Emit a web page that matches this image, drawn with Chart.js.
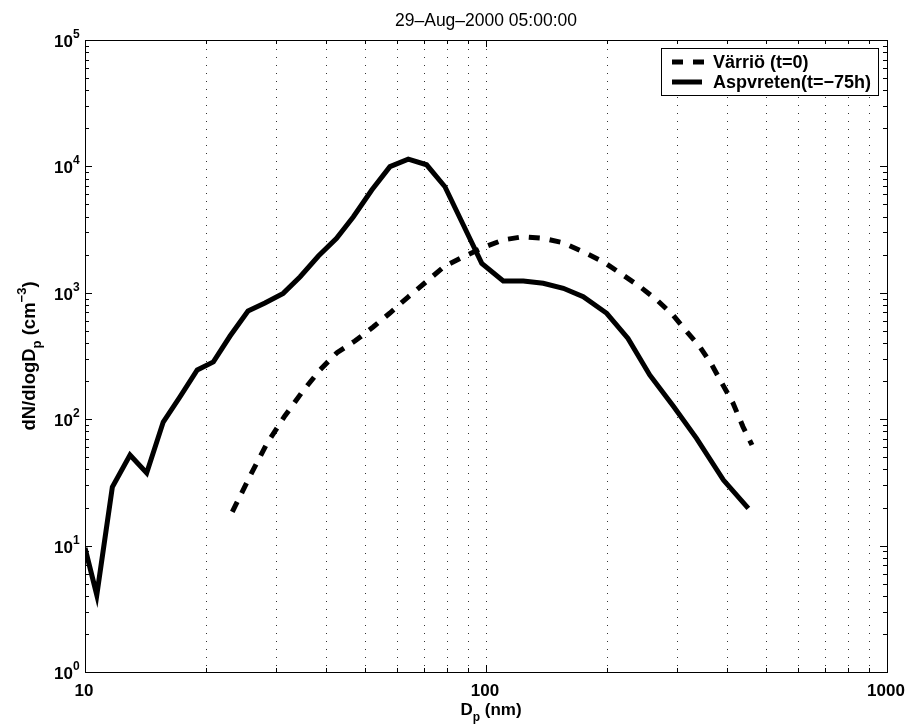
<!DOCTYPE html>
<html lang="en">
<head>
    <meta charset="UTF-8">
    <title>29-Aug-2000 05:00:00</title>
    <script src="https://cdn.jsdelivr.net/npm/chart.js"></script>
    <style>
        body {
            margin: 0;
            background-color: #ffffff;
        }
        canvas {
            display: block;
        }
    </style>
</head>
<body>
    <canvas id="sizeChart" width="909" height="726"></canvas>

    <script>
        // Aspvreten (t=-75h), solid line
        const aspvretenDp = [10, 10.7, 11.7, 12.95, 14.25, 15.67, 17.25, 19.05, 20.9, 23.0, 25.5, 28.1, 31.2, 34.4, 38.2,
            42.4, 46.7, 51.9, 57.6, 64.0, 71.1, 79.0, 87.8, 97.6, 110.4, 123.9, 138.9, 155.9, 174.8, 200, 226, 256,
            293, 335, 391, 451];
        const aspvretenConc = [9.6, 4.07, 29, 52, 37.5, 95, 150, 245, 284, 455, 718, 830, 990, 1340, 1955,
            2700, 4000, 6500, 9950, 11400, 10300, 6900, 3440, 1710, 1240, 1240, 1190, 1085, 930, 688, 436, 224,
            127, 70.6, 33, 19.7];

        // Värriö (t=0), dashed line
        const varrioDp = [23.3, 25.8, 28.4, 31.5, 34.8, 38.6, 42.5, 47.1, 52.3, 57.6, 63.9, 71.3, 79.0, 87.6, 97.7,
            110.3, 123.7, 138.7, 155.6, 174.5, 195.8, 219.6, 242.1, 266.9, 292.6, 317.1, 341.7, 366, 390, 413,
            437.5, 460.6];
        const varrioConc = [18.5, 35.5, 64, 106, 164, 247, 336, 415, 536, 692, 926, 1240, 1630, 1920, 2260,
            2620, 2780, 2700, 2490, 2115, 1763, 1383, 1118, 877, 667, 490, 373, 268, 186, 134,
            87, 62.5];

        const xTickLabels = ['10', '100', '1000'];
        const yTickExponents = ['0', '1', '2', '3', '4', '5'];

        const FONT = '"Liberation Sans", Arial, Helvetica, sans-serif';

        function toPoints(xs, ys) {
            return xs.map((v, i) => ({ x: v, y: ys[i] }));
        }

        // Dessine les axes façon MATLAB: cadre, graduations, grille pointillée, textes
        const matlabAxes = {
            id: 'matlabAxes',
            beforeDatasetsDraw(chart) {
                const { ctx, chartArea: a, scales: { x } } = chart;
                ctx.save();
                ctx.strokeStyle = '#333';
                ctx.lineWidth = 1;
                ctx.setLineDash([1, 7]);
                for (let d = 10; d < 1000; d *= 10) {
                    for (let k = 1; k <= 9; k++) {
                        const v = d * k;
                        if (v <= 10) continue;
                        const px = Math.round(x.getPixelForValue(v)) + 0.5;
                        ctx.beginPath();
                        ctx.moveTo(px, a.top + 1);
                        ctx.lineTo(px, a.bottom);
                        ctx.stroke();
                    }
                }
                ctx.restore();
            },
            afterDraw(chart) {
                const { ctx, chartArea: a, scales: { x, y } } = chart;
                ctx.save();
                ctx.strokeStyle = '#000';
                ctx.fillStyle = '#000';
                ctx.lineWidth = 1;
                ctx.setLineDash([]);

                // cadre
                ctx.strokeRect(Math.round(a.left) + 0.5, Math.round(a.top) + 0.5,
                    Math.round(a.right - a.left), Math.round(a.bottom - a.top));

                // graduations x (haut et bas)
                for (let d = 10; d <= 1000; d *= 10) {
                    for (let k = 1; k <= 9; k++) {
                        const v = d * k;
                        if (v > 1000) break;
                        const len = k === 1 ? 7 : 4;
                        const px = Math.round(x.getPixelForValue(v)) + 0.5;
                        ctx.beginPath();
                        ctx.moveTo(px, a.bottom);
                        ctx.lineTo(px, a.bottom - len);
                        ctx.moveTo(px, a.top);
                        ctx.lineTo(px, a.top + len);
                        ctx.stroke();
                    }
                }
                // graduations y (gauche et droite)
                for (let d = 1; d <= 1e5; d *= 10) {
                    for (let k = 1; k <= 9; k++) {
                        const v = d * k;
                        if (v > 1e5) break;
                        const len = k === 1 ? 7 : 4;
                        const py = Math.round(y.getPixelForValue(v)) + 0.5;
                        ctx.beginPath();
                        ctx.moveTo(a.left, py);
                        ctx.lineTo(a.left + len, py);
                        ctx.moveTo(a.right, py);
                        ctx.lineTo(a.right - len, py);
                        ctx.stroke();
                    }
                }

                // étiquettes x
                ctx.font = 'bold 17px ' + FONT;
                ctx.textAlign = 'center';
                ctx.textBaseline = 'alphabetic';
                xTickLabels.forEach(lbl => {
                    const px = x.getPixelForValue(Number(lbl));
                    ctx.fillText(lbl, px - 1, a.bottom + 24);
                });

                // étiquettes y : 10^n
                yTickExponents.forEach(e => {
                    const py = y.getPixelForValue(Math.pow(10, Number(e)));
                    ctx.font = 'bold 17px ' + FONT;
                    ctx.textAlign = 'right';
                    ctx.fillText('10', 73, py + 7);
                    ctx.font = 'bold 12px ' + FONT;
                    ctx.textAlign = 'left';
                    ctx.fillText(e, 73, py - 2);
                });

                // titre
                ctx.font = '17.5px ' + FONT;
                ctx.textAlign = 'center';
                ctx.fillText('29\u2013Aug\u20132000 05:00:00', (a.left + a.right) / 2, 26);

                // titre axe x : D_p (nm)
                drawRich(ctx, [
                    { t: 'D', size: 17, dy: 0 },
                    { t: 'p', size: 12, dy: 6 },
                    { t: ' (nm)', size: 17, dy: 0 }
                ], 491, 715, 17);

                // titre axe y : dN/dlogD_p (cm^-3)
                ctx.save();
                ctx.translate(35, (a.top + a.bottom) / 2);
                ctx.rotate(-Math.PI / 2);
                drawRich(ctx, [
                    { t: 'dN/dlogD', size: 18.5, dy: 0 },
                    { t: 'p', size: 13, dy: 6 },
                    { t: ' (cm', size: 18.5, dy: 0 },
                    { t: '\u22123', size: 13, dy: -9 },
                    { t: ')', size: 18.5, dy: 0 }
                ], 0, 0);
                ctx.restore();

                // légende
                const bx = 661.5, by = 48.5, bw = 217, bh = 47;
                ctx.fillStyle = '#fff';
                ctx.fillRect(bx, by, bw, bh);
                ctx.strokeStyle = '#000';
                ctx.lineWidth = 1;
                ctx.strokeRect(bx, by, bw, bh);
                ctx.lineWidth = 5;
                ctx.setLineDash([11, 10]);
                ctx.beginPath();
                ctx.moveTo(672, 62);
                ctx.lineTo(704, 62);
                ctx.stroke();
                ctx.setLineDash([]);
                ctx.beginPath();
                ctx.moveTo(672, 82);
                ctx.lineTo(702, 82);
                ctx.stroke();
                ctx.fillStyle = '#000';
                ctx.font = 'bold 18px ' + FONT;
                ctx.textAlign = 'left';
                ctx.textBaseline = 'middle';
                ctx.fillText(chart.data.datasets[0].label, 713, 63);
                ctx.fillText(chart.data.datasets[1].label, 713, 83);
                ctx.restore();
            }
        };

        // texte avec indices / exposants, centré sur (cx, baseline)
        function drawRich(ctx, parts, cx, base) {
            let total = 0;
            parts.forEach(p => {
                ctx.font = 'bold ' + p.size + 'px ' + FONT;
                p.w = ctx.measureText(p.t).width;
                total += p.w;
            });
            let cur = cx - total / 2;
            ctx.textAlign = 'left';
            ctx.textBaseline = 'alphabetic';
            ctx.fillStyle = '#000';
            parts.forEach(p => {
                ctx.font = 'bold ' + p.size + 'px ' + FONT;
                ctx.fillText(p.t, cur, base + p.dy);
                cur += p.w;
            });
        }

        const ctx = document.getElementById('sizeChart').getContext('2d');
        const sizeChart = new Chart(ctx, {
            type: 'line',
            data: {
                datasets: [{
                    label: 'Värriö (t=0)',
                    data: toPoints(varrioDp, varrioConc),
                    borderColor: '#000',
                    borderWidth: 5,
                    borderDash: [11, 10],
                    pointRadius: 0,
                    tension: 0,
                    fill: false
                }, {
                    label: 'Aspvreten(t=\u221275h)',
                    data: toPoints(aspvretenDp, aspvretenConc),
                    borderColor: '#000',
                    borderWidth: 5,
                    pointRadius: 0,
                    tension: 0,
                    fill: false
                }]
            },
            options: {
                responsive: false,
                animation: false,
                layout: {
                    padding: { left: 85, right: 22, top: 40, bottom: 54 }
                },
                scales: {
                    x: { type: 'logarithmic', min: 10, max: 1000, display: false },
                    y: { type: 'logarithmic', min: 1, max: 100000, display: false }
                },
                plugins: {
                    legend: { display: false },
                    tooltip: { enabled: false }
                }
            },
            plugins: [matlabAxes]
        });
    </script>
</body>
</html>
